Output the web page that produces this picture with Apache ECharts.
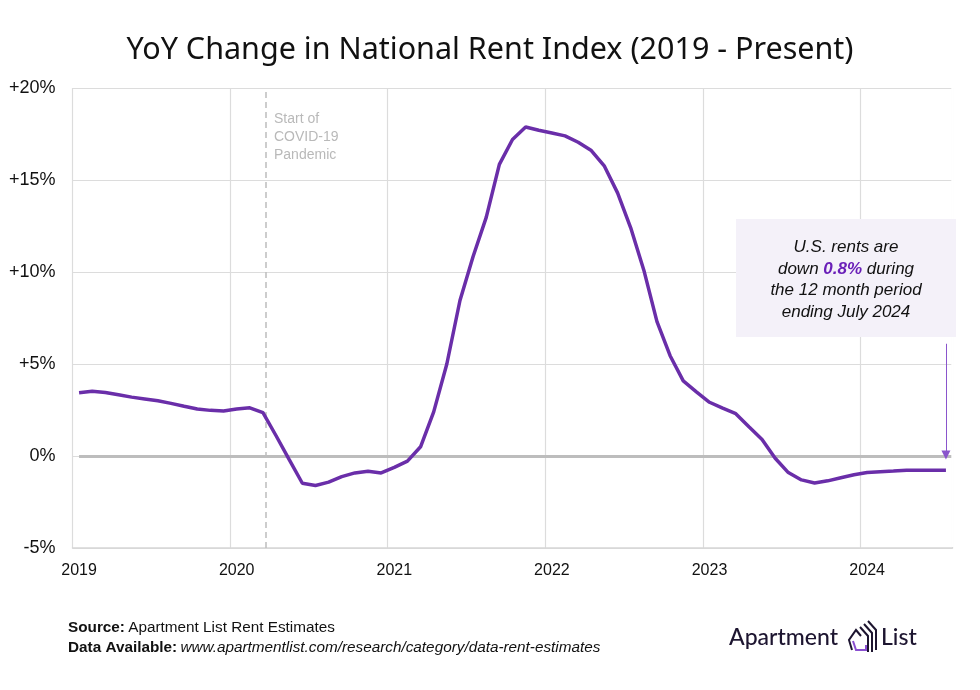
<!DOCTYPE html>
<html>
<head>
<meta charset="utf-8">
<script src="https://cdn.jsdelivr.net/npm/echarts@6/dist/echarts.min.js"></script>
<style>html,body{margin:0;padding:0;background:#fff;}#c{width:980px;height:690px;}</style>
</head>
<body>
<div id="c"></div>
<script>
// ---- data ----
const startYear = 2019;
const monthCount = 67; // Jan 2019 .. Jul 2024
const yoyChange = [
  3.44, 3.52, 3.45, 3.33, 3.20, 3.10, 3.00, 2.86, 2.70, 2.55, 2.48, 2.45,
  2.55, 2.62, 2.36, 1.10, -0.20, -1.48, -1.60, -1.42, -1.12, -0.92, -0.83, -0.92,
  -0.62, -0.28, 0.50, 2.40, 5.00, 8.45, 10.84, 12.97, 15.85, 17.20, 17.88, 17.70,
  17.55, 17.40, 17.05, 16.60, 15.75, 14.30, 12.40, 10.10, 7.30, 5.45, 4.08, 3.49,
  2.92, 2.60, 2.30, 1.59, 0.90, -0.12, -0.90, -1.30, -1.47, -1.35, -1.18, -1.02,
  -0.90, -0.85, -0.82, -0.78, -0.78, -0.78, -0.78
];
const yTicks = { min: -5, max: 20, step: 5 };
const covidStartMonths = 14.74; // months after Jan 1 2019 (late March 2020)
const latestValueText = '0.8%';
const arrowTopValue = 6.1;

const months = [];
for (let i = 0; i < monthCount; i++) {
  const y = startYear + Math.floor(i / 12);
  const m = (i % 12) + 1;
  months.push(y + '-' + (m < 10 ? '0' + m : m));
}

const chart = echarts.init(document.getElementById('c'), null, { renderer: 'canvas' });
const purple = '#6a2ea9';
const textFont = '"Liberation Sans", Arial, Helvetica, sans-serif';
const lastMid = monthCount - 0.5; // mid-month of last data point, in month units

chart.setOption({
  animation: false,
  backgroundColor: '#fff',
  title: {
    text: 'YoY Change in National Rent Index (2019 - Present)',
    left: 'center',
    top: 30,
    textStyle: { fontFamily: '"Noto Sans", sans-serif', fontSize: 30.5, fontWeight: 400, color: '#111' }
  },
  grid: { left: 72.5, right: 27.5, top: 88, bottom: 142, containLabel: false },
  xAxis: [
    {
      type: 'category',
      data: months,
      boundaryGap: true,
      axisLine: { show: true, onZero: false, lineStyle: { color: '#d6d6d6', width: 1.5 } },
      axisTick: { show: false },
      axisLabel: {
        interval: function (idx) { return idx % 12 === 0; },
        formatter: function (v) { return v.slice(0, 4); },
        color: '#111', fontSize: 16, fontFamily: textFont, margin: 15
      },
      splitLine: {
        show: true,
        interval: function (idx) { return idx % 12 === 0; },
        lineStyle: { color: '#dcdcdc', width: 1.2 }
      }
    },
    {
      // continuous month scale used only for annotation lines
      type: 'value', min: 0, max: monthCount, show: false,
      splitLine: { show: false }
    }
  ],
  yAxis: {
    type: 'value',
    min: yTicks.min, max: yTicks.max, interval: yTicks.step,
    axisLine: { show: false },
    axisTick: { show: false },
    axisLabel: {
      formatter: function (v) { return (v > 0 ? '+' : '') + v + '%'; },
      color: '#111', fontSize: 18, fontFamily: textFont, margin: 17
    },
    splitLine: { show: true, lineStyle: { color: '#dcdcdc', width: 1.2 } }
  },
  series: [
    {
      type: 'line',
      data: yoyChange,
      showSymbol: false,
      lineStyle: { color: purple, width: 3.5 },
      itemStyle: { color: purple },
      z: 5
    },
    {
      type: 'line',
      xAxisIndex: 1,
      data: [],
      z: 4,
      markLine: {
        silent: true,
        symbol: 'none',
        label: { show: false },
        data: [
          [
            { coord: [0.5, 0], lineStyle: { color: '#bdbdbd', width: 3, type: 'solid' } },
            { coord: [monthCount, 0] }
          ],
          { xAxis: covidStartMonths, lineStyle: { color: '#bdbdbd', width: 1.5, type: [6, 4] } }
        ]
      }
    },
    {
      type: 'line',
      xAxisIndex: 1,
      data: [],
      z: 6,
      markLine: {
        silent: true,
        symbol: ['none', 'triangle'],
        symbolSize: [9, 9],
        label: { show: false },
        itemStyle: { color: '#6a1fbf' },
        lineStyle: { color: '#8a55cc', width: 1, type: 'solid' },
        data: [[
          { coord: [lastMid, arrowTopValue], lineStyle: { color: '#8a55cc', width: 1 }, itemStyle: { color: '#6a1fbf' } },
          { coord: [lastMid, 0.05] }
        ]]
      }
    }
  ],
  graphic: [
    {
      // hide the closing vertical grid line at the right edge (not in the reference)
      type: 'rect', shape: { x: 951.3, y: 87, width: 2.2, height: 460 },
      style: { fill: '#fff' }, z: 100, silent: true
    },
    {
      type: 'text', left: 274, top: 110,
      style: { text: 'Start of\nCOVID-19\nPandemic', fill: '#b9b9b9', font: '14px ' + textFont, lineHeight: 18 }
    },
    {
      type: 'rect', shape: { x: 736, y: 219, width: 220, height: 118 },
      style: { fill: '#f4f1f9' }, z: 101
    },
    {
      type: 'text', x: 846, y: 237, z: 102,
      style: {
        text: '{i|U.S. rents are}\n{i|down }{b|' + latestValueText + '}{i| during}\n{i|the 12 month period}\n{i|ending July 2024}',
        align: 'center',
        rich: {
          i: { fontSize: 17, fontStyle: 'italic', fontFamily: textFont, fill: '#111', lineHeight: 21.5 },
          b: { fontSize: 17, fontStyle: 'italic', fontWeight: 'bold', fontFamily: textFont, fill: '#6a1fb8', lineHeight: 21.5 }
        }
      }
    },
    {
      type: 'text', left: 68, top: 620,
      style: {
        text: '{b|Source:} {n|Apartment List Rent Estimates}\n{b|Data Available:} {it|www.apartmentlist.com/research/category/data-rent-estimates}',
        rich: {
          b: { fontSize: 15.3, fontWeight: 'bold', fontFamily: textFont, fill: '#111', lineHeight: 20 },
          n: { fontSize: 15.3, fontFamily: textFont, fill: '#111', lineHeight: 20 },
          it: { fontSize: 15.3, fontStyle: 'italic', fontFamily: textFont, fill: '#111', lineHeight: 20 }
        }
      }
    },
    {
      type: 'text', left: 729, top: 626,
      style: { text: 'Apartment', font: '500 23px Lato, "Noto Sans", sans-serif', fill: '#1d1530' }
    },
    {
      type: 'text', left: 881, top: 626,
      style: { text: 'List', font: '500 23px Lato, "Noto Sans", sans-serif', fill: '#1d1530' }
    },
    // logo icon
    {
      type: 'polyline', shape: { points: [[852, 650], [849, 640], [856, 630], [861, 636]] },
      style: { stroke: '#1d1530', lineWidth: 2, fill: null }
    },
    {
      type: 'polyline', shape: { points: [[853, 641], [856, 650], [866, 650], [866, 645]] },
      style: { stroke: '#8a4fd0', lineWidth: 2, fill: null }
    },
    {
      type: 'polyline', shape: { points: [[860, 627], [868, 636], [868, 652]] },
      style: { stroke: '#1d1530', lineWidth: 2, fill: null }
    },
    {
      type: 'polyline', shape: { points: [[864, 624], [872, 633], [872, 652]] },
      style: { stroke: '#1d1530', lineWidth: 2, fill: null }
    },
    {
      type: 'polyline', shape: { points: [[868, 621], [876, 630], [876, 650]] },
      style: { stroke: '#1d1530', lineWidth: 2, fill: null }
    }
  ]
});
</script>
</body>
</html>
